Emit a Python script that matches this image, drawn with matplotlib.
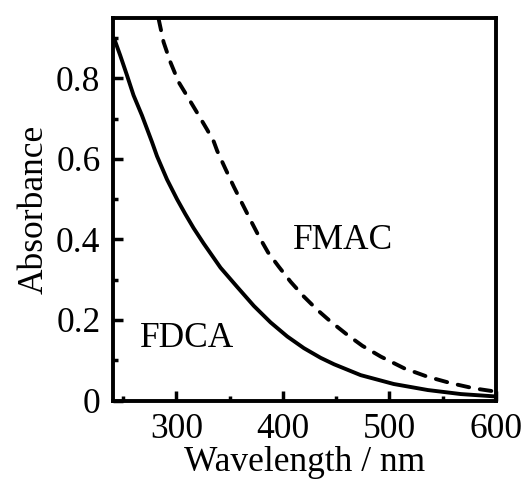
import matplotlib.pyplot as plt
import numpy as np
from matplotlib.ticker import MultipleLocator, FuncFormatter

plt.rcParams['font.family'] = ['Liberation Serif', 'DejaVu Serif']
plt.rcParams['font.size'] = 25.5

# FDCA absorption spectrum (wavelength in nm, absorbance)
wl_fdca = [241.6, 247.3, 253.6, 259.8, 267.7, 277.1, 281.8, 291.2, 300.6,
           308.4, 316.2, 325.6, 333.5, 341.4, 357.1, 372.7, 388.4, 404.1,
           419.7, 435.4, 448, 473, 504, 536, 567, 600]
abs_fdca = [0.899, 0.857, 0.808, 0.758, 0.708, 0.642, 0.607, 0.549, 0.500,
            0.463, 0.428, 0.390, 0.360, 0.330, 0.282, 0.235, 0.194, 0.159,
            0.130, 0.106, 0.090, 0.063, 0.041, 0.026, 0.016, 0.010]

# FMAC absorption spectrum
wl_fmac = [283.3, 288, 294.3, 302.1, 311.5, 321, 328.8, 335.1, 338.3, 346.1,
           353.9, 361.8, 369.6, 377.4, 386, 396.2, 407.2, 419.7, 432.3, 444.8,
           460.5, 474.5, 491.9, 513.8, 535.8, 557.7, 579.6, 600]
abs_fmac = [0.948, 0.890, 0.841, 0.791, 0.750, 0.708, 0.673, 0.643, 0.620,
            0.575, 0.531, 0.489, 0.448, 0.408, 0.368, 0.332, 0.295, 0.258,
            0.225, 0.196, 0.163, 0.136, 0.109, 0.080, 0.059, 0.043, 0.030,
            0.022]

fig = plt.figure(figsize=(5.26, 4.84), dpi=100)
ax = fig.add_axes([0.2148, 0.1725, 0.943 - 0.2148, 0.9628 - 0.1725])

ax.plot(wl_fdca, abs_fdca, color='black', lw=2.8, solid_joinstyle='round',
        solid_capstyle='round')
ax.plot(wl_fmac, abs_fmac, color='black', lw=2.8, dashes=(3.0, 2.8),
        dash_capstyle='round', dash_joinstyle='round')

ax.text(310, 0.155, 'FDCA', ha='center', va='center')
ax.text(456, 0.398, 'FMAC', ha='center', va='center')

ax.set_xlim(240.5, 600)
ax.set_ylim(0, 0.95)
ax.xaxis.set_major_locator(MultipleLocator(100))
ax.xaxis.set_minor_locator(MultipleLocator(50))
ax.yaxis.set_major_locator(MultipleLocator(0.2))
ax.yaxis.set_minor_locator(MultipleLocator(0.1))
ax.yaxis.set_major_formatter(FuncFormatter(lambda v, p: '0' if abs(v) < 1e-9 else '%.1f' % v))

for s in ax.spines.values():
    s.set_linewidth(2.8)
ax.tick_params(which='both', direction='in', width=2.5, top=False, right=False)
ax.tick_params(which='major', length=7.5, pad=9)
ax.tick_params(which='minor', length=3.8)

ax.set_xlabel('Wavelength / nm', labelpad=0)
ax.set_ylabel('Absorbance', labelpad=4)

fig.savefig('out.png', dpi=100)
